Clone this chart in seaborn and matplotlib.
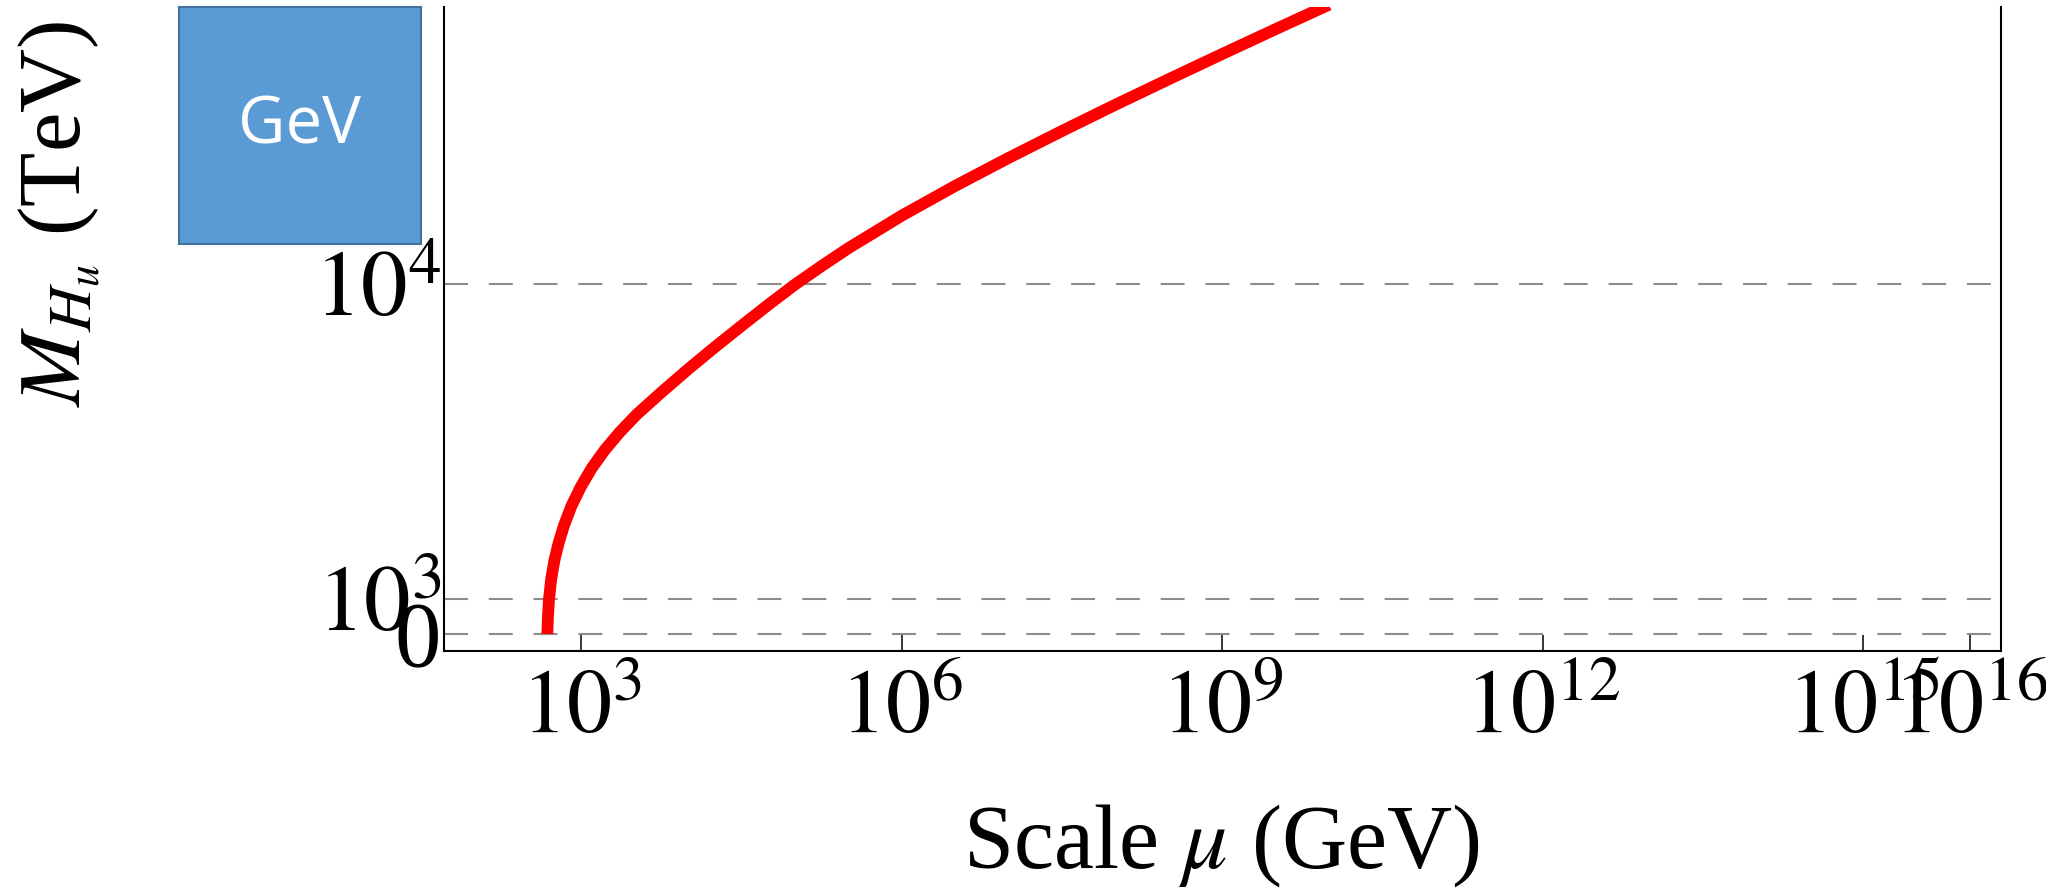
import numpy as np
import pandas as pd
import seaborn as sns
import matplotlib
matplotlib.use("Agg")
import matplotlib.pyplot as plt
from matplotlib.patches import Rectangle
from matplotlib.ticker import NullLocator

# ---- data ----
log10_mu = [2.684, 2.690, 2.700, 2.720, 2.750, 2.790, 2.840, 2.910, 3.000,
            3.100, 3.220, 3.360, 3.520, 3.750, 4.000, 4.250, 4.500, 4.750,
            5.000, 5.250, 5.500, 6.000, 6.500, 7.000, 7.500, 8.000, 8.500,
            9.000, 9.500, 10.000]
m_hu = [0, 500, 1000, 1560, 2100, 2600, 3100, 3660, 4220,
        4740, 5250, 5760, 6270, 6900, 7560, 8190, 8800, 9400,
        9980, 10510, 11020, 11950, 12800, 13600, 14370, 15120, 15850,
        16570, 17280, 17980]

x_ticks = [1e3, 1e6, 1e9, 1e12, 1e15, 1e16]
x_tick_labels = [r"$10^{3}$", r"$10^{6}$", r"$10^{9}$", r"$10^{12}$",
                 r"$10^{15}$", r"$10^{16}$"]
y_ticks = [0, 1000, 10000]
y_tick_labels = ["0", r"$10^{3}$", r"$10^{4}$"]

x_label = r"Scale $\mu$ (GeV)"
y_label = r"$M_{H_u}$ (TeV)"
box_text = "GeV"

# ---- style ----
sns.set_theme(style="ticks")
plt.rcParams["font.family"] = ["Liberation Serif", "DejaVu Serif"]
plt.rcParams["mathtext.fontset"] = "stix"

W, H = 2046, 889
fig = plt.figure(figsize=(W / 100, H / 100), dpi=100)
fig.patch.set_facecolor("white")

L, R, B, T = 444, 2001, 651, 7
ax = fig.add_axes([L / W, 1 - B / H, (R - L) / W, (B - T) / H])
ax.set_facecolor("white")

df = pd.DataFrame({"mu": np.power(10.0, log10_mu), "M": m_hu})
sns.lineplot(data=df, x="mu", y="M", ax=ax, color="#ff0000", linewidth=8.5,
             solid_capstyle="butt", solid_joinstyle="round", zorder=3)

ax.set_xscale("log")
ax.set_xlim(10 ** 1.717, 10 ** 16.29)
ax.set_ylim(-486, 17914)

# dashed reference lines at the y ticks
for yv in y_ticks:
    ax.axhline(yv, color="#8c8c8c", linewidth=1.5, linestyle=(0, (11.5, 10)),
               zorder=1)

ax.set_xticks(x_ticks)
ax.set_xticklabels(x_tick_labels)
ax.xaxis.set_minor_locator(NullLocator())
ax.set_yticks(y_ticks)
ax.set_yticklabels(y_tick_labels)
ax.yaxis.set_minor_locator(NullLocator())

ax.tick_params(axis="x", direction="in", length=11.5, width=1.1,
               labelsize=65, pad=13, colors="black", top=False)
ax.tick_params(axis="y", direction="in", length=16.5, width=1.1,
               labelsize=67, pad=2, colors="black", right=False)

for s in ["left", "right", "bottom"]:
    ax.spines[s].set_color("black")
    ax.spines[s].set_linewidth(1.5)
ax.spines["top"].set_visible(False)

ax.set_xlabel(x_label, fontsize=65, color="black")
ax.xaxis.label.set_va("baseline")
ax.xaxis.set_label_coords((1221 - L) / (R - L), -(868 - B) / (B - T))

ax.set_ylabel(y_label, fontsize=64, color="black")
ax.yaxis.label.set_va("center")
ax.yaxis.set_label_coords((60 - L) / (R - L), (B - 213.5) / (B - T))

ax.grid(False)

# blue overlay box with "GeV"
bx0, by0, bx1, by1 = 179, 7, 421, 244
fig.patches.append(Rectangle((bx0 / W, 1 - by1 / H), (bx1 - bx0) / W,
                             (by1 - by0) / H, transform=fig.transFigure,
                             facecolor="#5b9bd5", edgecolor="#41719c",
                             linewidth=1.5, zorder=5))
fig.text((bx0 + bx1) / 2 / W, 1 - 126 / H, box_text, color="white",
         fontsize=47, family=["Open Sans", "DejaVu Sans"],
         ha="center", va="center", zorder=6)

fig.savefig("out.png", dpi=100, facecolor="white")
